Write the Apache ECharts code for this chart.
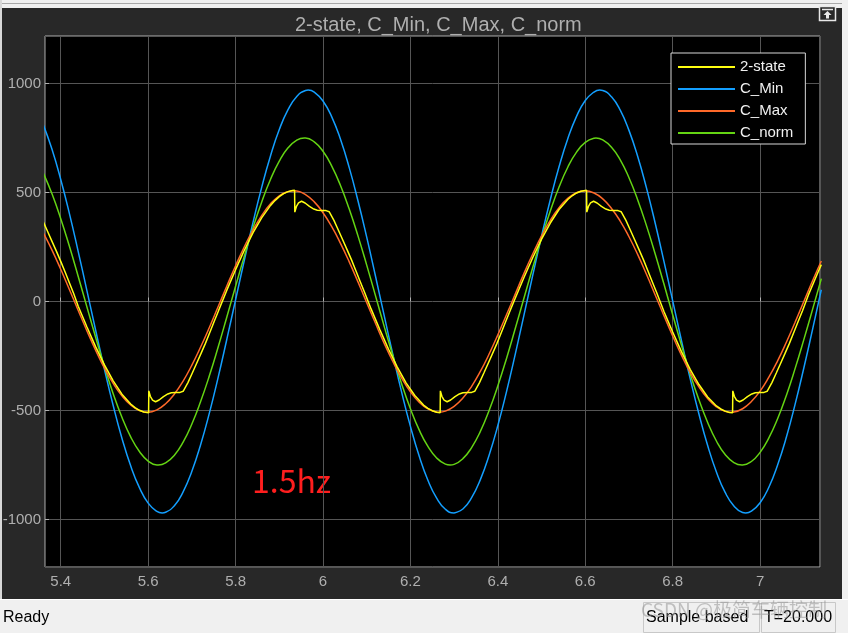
<!DOCTYPE html>
<html>
<head>
<meta charset="utf-8">
<script src="https://cdn.jsdelivr.net/npm/echarts@6/dist/echarts.min.js"></script>
<style>html,body{margin:0;padding:0;background:#f0f0f0;}#chart{width:848px;height:633px;}</style>
</head>
<body>
<div id="chart"></div>
<script>
const titleText = '2-state, C_Min, C_Max, C_norm';
const seriesNames = ['2-state', 'C_Min', 'C_Max', 'C_norm'];
const seriesColors = ['#FFFF11', '#139FFF', '#FF6929', '#64D413'];

const sampleTimes = [5.36,5.38,5.40,5.42,5.44,5.46,5.48,5.50,5.52,5.54,5.56,5.58,5.60,5.62,5.64,5.66,5.68,5.70,5.72,5.74,5.76,5.78,5.80,5.82,5.84,5.86,5.88,5.90,5.92,5.94,5.96,5.98,6.00,6.02,6.04,6.06,6.08,6.10,6.12,6.14,6.16,6.18,6.20,6.22,6.24,6.26,6.28,6.30,6.32,6.34,6.36,6.38,6.40,6.42,6.44,6.46,6.48,6.50,6.52,6.54,6.56,6.58,6.60,6.62,6.64,6.66,6.68,6.70,6.72,6.74,6.76,6.78,6.80,6.82,6.84,6.86,6.88,6.90,6.92,6.94,6.96,6.98,7.00,7.02,7.04,7.06,7.08,7.10,7.12,7.14];

const cMin = [811,698,560,402,229,49,-133,-311,-477,-627,-754,-854,-925,-963,-967,-937,-873,-779,-657,-512,-349,-173,8,189,364,526,669,789,880,941,968,961,920,847,744,614,462,295,117,-65,-245,-417,-573,-709,-820,-902,-953,-970,-952,-900,-817,-705,-569,-412,-240,-60,122,300,467,618,747,849,922,961,968,939,878,785,665,521,359,184,3,-179,-354,-516,-661,-782,-876,-938,-968,-962,-923,-852,-750,-623,-472,-305,-128,54];

const cMax = [316,236,148,54,-41,-135,-224,-306,-376,-433,-475,-500,-508,-497,-469,-424,-365,-292,-209,-119,-24,71,164,251,329,395,448,485,504,507,490,457,407,343,267,182,90,-5,-100,-192,-276,-351,-414,-462,-493,-507,-503,-481,-443,-389,-321,-241,-153,-60,35,130,219,301,372,430,473,499,508,498,471,427,369,297,215,125,30,-65,-158,-246,-325,-392,-445,-483,-504,-507,-492,-459,-411,-347,-272,-187,-95,0,95,186];

const cNorm = [590,494,380,252,115,-26,-165,-299,-423,-531,-621,-688,-732,-750,-740,-705,-645,-562,-459,-341,-210,-71,70,208,339,458,561,644,705,740,750,732,689,621,532,424,301,167,27,-114,-250,-378,-492,-589,-665,-718,-746,-747,-721,-670,-596,-500,-387,-260,-123,17,157,291,415,525,616,685,730,749,741,708,650,568,466,348,218,80,-61,-200,-332,-451,-555,-640,-702,-739,-750,-734,-692,-626,-538,-431,-308,-175,-36,105];

// turning points (time, value)
const cMinPeakT = [5.632, 5.966, 6.2995, 6.633, 6.967];
const cMinPeakV = [-970, 970, -970, 970, -970];
const cNormPeakT = [5.6233, 5.957, 6.2908, 6.6245, 6.9583];
const cNormPeakV = [-750, 750, -750, 750, -750];
const cMaxPeakT = [5.5983, 5.932, 6.2658, 6.5995, 6.9333];
const cMaxPeakV = [-508, 508, -508, 508, -508];

const twoStateT = [5.36,5.37,5.38,5.39,5.40,5.41,5.42,5.43,5.44,5.46,5.48,5.50,5.52,5.54,5.56,5.57,5.58,5.59,5.601,
5.6015,5.605,5.610,5.617,5.625,5.635,5.645,5.653,5.663,5.673,5.680,5.691,5.701,5.711,5.721,5.731,5.741,5.751,5.761,
5.78,5.80,5.82,5.84,5.86,5.88,5.89,5.90,5.91,5.92,5.93,5.935,
5.9355,5.939,5.944,5.951,5.959,5.969,5.979,5.987,5.997,6.007,6.014,6.025,6.035,6.045,6.055,6.065,6.075,6.085,6.095,
6.11,6.13,6.15,6.17,6.19,6.21,6.23,6.24,6.25,6.26,6.268,
6.2685,6.272,6.277,6.284,6.292,6.302,6.312,6.320,6.330,6.340,6.347,6.358,6.368,6.378,6.388,6.398,6.408,6.418,6.428,
6.44,6.46,6.48,6.50,6.52,6.54,6.56,6.57,6.58,6.59,6.603,
6.6035,6.607,6.612,6.619,6.627,6.637,6.647,6.655,6.665,6.675,6.682,6.693,6.703,6.713,6.723,6.733,6.743,6.753,6.763,
6.78,6.80,6.82,6.84,6.86,6.88,6.90,6.91,6.92,6.93,6.937,
6.9375,6.941,6.946,6.953,6.961,6.971,6.981,6.989,6.999,7.009,7.016,7.027,7.037,7.047,7.057,7.067,7.077,7.087,7.097,
7.11,7.13,7.14];

const twoStateV = [366,321,276,231,184,135,85,34,-22,-117,-208,-291,-364,-425,-470,-487,-499,-507,-510,
-410,-435,-452,-460,-452,-436,-424,-419,-418,-417,-412,-372,-328,-283,-238,-192,-142,-92,-42,
52,146,235,316,385,441,463,481,495,504,509,510,
410,435,452,460,452,436,424,419,418,417,412,372,328,283,238,192,142,92,42,
-34,-129,-219,-301,-373,-431,-475,-490,-501,-508,-510,
-410,-435,-452,-460,-452,-436,-424,-419,-418,-417,-412,-372,-328,-283,-238,-192,-142,-92,-42,
16,111,202,286,360,422,468,485,498,506,510,
410,435,452,460,452,436,424,419,418,417,412,372,328,283,238,192,142,92,42,
-46,-140,-230,-311,-381,-438,-479,-493,-503,-509,-510,
-410,-435,-452,-460,-452,-436,-424,-419,-418,-417,-412,-372,-328,-283,-238,-192,-142,-92,-42,
28,123,169];

const xRange = [5.364, 7.137];
const yRange = [-1218, 1218];

const annotationText = '1.5hz';
const statusLeft = 'Ready';
const statusMode = 'Sample based';
const statusTime = 'T=20.000';
const watermark = 'CSDN @极简车辆控制';

const FONT = "'Liberation Sans', Arial, Helvetica, sans-serif";

const pairs = (xs, ys) => xs.map((x, i) => [x, ys[i]]);
const merged = (xs, ys, px, py) => pairs(xs, ys).concat(pairs(px, py)).sort((a, b) => a[0] - b[0]);

const chart = echarts.init(document.getElementById('chart'), null, {renderer: 'canvas'});

function lineSeries(name, color, data, smooth) {
  return {
    name, type: 'line', data, smooth, symbol: 'none', showSymbol: false,
    lineStyle: {color, width: 1.5}, itemStyle: {color},
    emphasis: {disabled: true}, clip: true
  };
}

chart.setOption({
  animation: false,
  backgroundColor: '#282828',
  title: {
    text: titleText, left: 290, top: 10,
    textStyle: {color: '#afafaf', fontSize: 20, fontWeight: 'normal', fontFamily: FONT}
  },
  grid: {
    left: 45, right: 28, top: 36, bottom: 66,
    outerBoundsMode: 'none', containLabel: false,
    show: true, backgroundColor: '#000000', borderColor: '#afafaf', borderWidth: 1
  },
  legend: {
    data: seriesNames,
    orient: 'vertical', left: 671, top: 53,
    backgroundColor: '#000000', borderColor: '#d8d8d8', borderWidth: 1,
    padding: [6, 12, 3, 7],
    icon: 'rect', itemWidth: 57, itemHeight: 2, itemGap: 6,
    textStyle: {color: '#f0f0f0', fontSize: 15, lineHeight: 16, fontFamily: FONT},
    selectedMode: false
  },
  xAxis: {
    type: 'value', min: xRange[0], max: xRange[1], splitNumber: 9,
    axisLine: {show: false},
    axisTick: {show: true, inside: true, length: 4, lineStyle: {color: '#afafaf'}},
    axisLabel: {color: '#afafaf', fontSize: 15, fontFamily: FONT, margin: 7, showMinLabel: false, showMaxLabel: false,
      formatter: v => String(Math.round(v * 10) / 10)},
    splitLine: {show: true, lineStyle: {color: '#555555', width: 1}}
  },
  yAxis: {
    type: 'value', min: yRange[0], max: yRange[1], splitNumber: 5,
    axisLine: {show: false},
    axisTick: {show: true, inside: true, length: 4, lineStyle: {color: '#afafaf'}},
    axisLabel: {color: '#afafaf', fontSize: 15, fontFamily: FONT, margin: 4, showMinLabel: false, showMaxLabel: false,
      formatter: v => String(Math.round(v))},
    splitLine: {show: true, lineStyle: {color: '#555555', width: 1}}
  },
  series: [
    lineSeries('C_Min', seriesColors[1], merged(sampleTimes, cMin, cMinPeakT, cMinPeakV), true),
    lineSeries('C_norm', seriesColors[3], merged(sampleTimes, cNorm, cNormPeakT, cNormPeakV), true),
    lineSeries('C_Max', seriesColors[2], merged(sampleTimes, cMax, cMaxPeakT, cMaxPeakV), true),
    lineSeries('2-state', seriesColors[0], pairs(twoStateT, twoStateV), false)
  ],
  graphic: [
    {type: 'rect', shape: {x: 0, y: 0, width: 848, height: 8}, style: {fill: '#f0f0f0'}, silent: true},
    {type: 'line', shape: {x1: 0, y1: 3.5, x2: 848, y2: 3.5}, style: {stroke: '#a8a8a8', lineWidth: 1}, silent: true},
    {type: 'rect', shape: {x: 0, y: 0, width: 2, height: 633}, style: {fill: '#d8d8d8'}, silent: true},
    {type: 'rect', shape: {x: 842, y: 0, width: 6, height: 633}, style: {fill: '#f0f0f0'}, silent: true},
    {type: 'rect', shape: {x: 0, y: 599, width: 848, height: 34}, style: {fill: '#f0f0f0'}, silent: true},
    {type: 'line', shape: {x1: 0, y1: 599.5, x2: 848, y2: 599.5}, style: {stroke: '#ffffff', lineWidth: 1}, silent: true},
    {type: 'rect', shape: {x: 819.5, y: 6.5, width: 16, height: 14}, style: {fill: '#282828', stroke: '#e8e8e8', lineWidth: 1.5}, silent: true},
    {type: 'line', shape: {x1: 822, y1: 9.5, x2: 833, y2: 9.5}, style: {stroke: '#e8e8e8', lineWidth: 1.5}, silent: true},
    {type: 'polygon', shape: {points: [[827.5, 11], [823.5, 15], [826, 15], [826, 18.5], [829, 18.5], [829, 15], [831.5, 15]]}, style: {fill: '#e8e8e8'}, silent: true},
    {type: 'text', x: 252, y: 481, style: {text: annotationText, fill: '#ff1e1e', fontSize: 32, fontFamily: "'Noto Sans CJK SC', 'Noto Sans', sans-serif", textVerticalAlign: 'middle'}, silent: true},
    {type: 'text', x: 3, y: 618, style: {text: statusLeft, fill: '#000000', fontSize: 16, fontFamily: FONT, textVerticalAlign: 'middle'}, silent: true},
    {type: 'rect', shape: {x: 643.5, y: 602.5, width: 116, height: 30}, style: {fill: 'none', stroke: '#c8c8c8', lineWidth: 1}, silent: true},
    {type: 'rect', shape: {x: 761.5, y: 602.5, width: 74, height: 30}, style: {fill: 'none', stroke: '#c8c8c8', lineWidth: 1}, silent: true},
    {type: 'text', x: 646, y: 618, style: {text: statusMode, fill: '#000000', fontSize: 16, fontFamily: FONT, textVerticalAlign: 'middle'}, silent: true},
    {type: 'text', x: 764, y: 618, style: {text: statusTime, fill: '#000000', fontSize: 16, fontFamily: FONT, textVerticalAlign: 'middle'}, silent: true},
    {type: 'text', x: 641, y: 610, style: {text: watermark, fill: 'rgba(150,150,150,0.55)', fontSize: 19, fontFamily: "'Noto Sans CJK SC', sans-serif", textVerticalAlign: 'middle'}, silent: true}
  ]
});
</script>
</body>
</html>
